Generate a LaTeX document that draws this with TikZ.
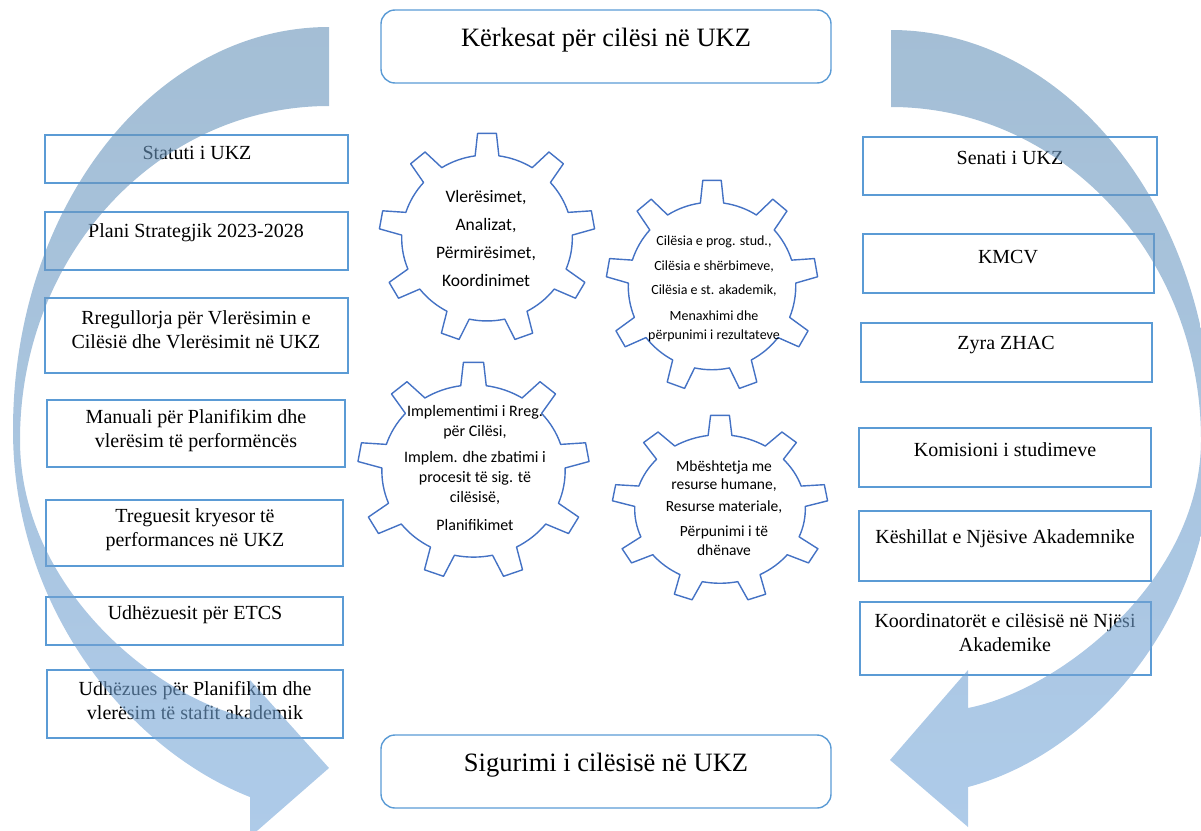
\documentclass[tikz,border=0pt]{standalone}
\usepackage{fontspec}
\setmainfont{Liberation Serif}
\newfontfamily\gearfont{Carlito}
\usetikzlibrary{positioning}
\definecolor{boxline}{RGB}{91,155,213}
\definecolor{gearline}{RGB}{68,114,196}
\definecolor{arrowtop}{RGB}{103,147,185}
\definecolor{arrowbot}{RGB}{120,168,218}
\tikzstyle{box}=[rectangle, draw=boxline, line width=1.4pt]
\tikzstyle{endbox}=[box, rounded corners=14pt, minimum width=450, minimum height=73]
\tikzstyle{boxtext}=[align=center, inner sep=0pt, font=\fontsize{20}{24}\selectfont]
\tikzstyle{endtext}=[inner sep=0pt, font=\fontsize{26.5}{30}\selectfont]
\tikzstyle{geartext}=[align=center, inner sep=0pt]
\tikzstyle{gearline}=[draw=gearline, line width=1.4pt, line join=round]
\tikzstyle{bigarrow}=[top color=arrowtop, bottom color=arrowbot, opacity=0.6]
%% one cog wheel: centre x, centre y, x radius, y radius
\newcommand{\cog}[4]{%
  \begin{scope}[shift={(#1,#2)},x=#3pt,y=#4pt]
    \draw[gearline] (82:0.79) \foreach \a in {90,130,...,410}{
      -- (\a-5:1) -- (\a+5:1) -- (\a+8:0.79)
      arc[start angle=\a+8, end angle=\a+32, radius=0.79]} -- cycle;
  \end{scope}}

\begin{document}
\begin{tikzpicture}[x=1pt,y=-1pt]
  \useasboundingbox (0,0) rectangle (1201,830);
  \clip (0,0) rectangle (1201,830);

  %% Top and bottom
  \draw (606,46.5) node[endbox] (Top) {};
  \draw (606,40) node[endtext] (TopT) {Kërkesat për cilësi në UKZ};
  \draw (606,771.5) node[endbox] (Bot) {};
  \draw (606,765) node[endtext] (BotT) {Sigurimi i cilësisë në UKZ};

  %% Left column
  \draw (196.5,159) node[box, minimum width=303, minimum height=48] (L1) {};
  \draw (196.5,241) node[box, minimum width=303, minimum height=58] (L2) {};
  \draw (196.5,335.5) node[box, minimum width=303, minimum height=75] (L3) {};
  \draw (196,433.5) node[box, minimum width=298, minimum height=67] (L4) {};
  \draw (194.5,533) node[box, minimum width=297, minimum height=66] (L5) {};
  \draw (194.5,621) node[box, minimum width=297, minimum height=48] (L6) {};
  \draw (195,704) node[box, minimum width=296, minimum height=68] (L7) {};

  \draw (197,153) node[boxtext] (L1t) {Statuti i UKZ};
  \draw (196,233) node[boxtext] (L2t) {Plani Strategjik 2023-2028};
  \draw (196,330) node[boxtext] (L3t) {Rregullorja për Vlerësimin e\\Cilësië dhe Vlerësimit në UKZ};
  \draw (196,431) node[boxtext] (L4t) {Manuali për Planifikim dhe\\vlerësim të performëncës};
  \draw (195,530) node[boxtext] (L5t) {Treguesit kryesor të\\performances në UKZ};
  \draw (195,615) node[boxtext] (L6t) {Udhëzuesit për ETCS};
  \draw (195,701) node[boxtext] (L7t) {Udhëzues për Planifikim dhe\\vlerësim të stafit akademik};

  %% Right column
  \draw (1010,166) node[box, minimum width=294, minimum height=58] (R1) {};
  \draw (1008.5,263.5) node[box, minimum width=291, minimum height=59] (R2) {};
  \draw (1006.5,352.5) node[box, minimum width=291, minimum height=59] (R3) {};
  \draw (1005,457.5) node[box, minimum width=292, minimum height=59] (R4) {};
  \draw (1005,546) node[box, minimum width=292, minimum height=70] (R5) {};
  \draw (1005.5,638.5) node[box, minimum width=291, minimum height=73] (R6) {};

  \draw (1010,158) node[boxtext] (R1t) {Senati i UKZ};
  \draw (1008,257) node[boxtext] (R2t) {KMCV};
  \draw (1006,345) node[boxtext] (R3t) {Zyra ZHAC};
  \draw (1005,450) node[boxtext] (R4t) {Komisioni i studimeve};
  \draw (1005,539) node[boxtext] (R5t) {Këshillat e Njësive Akademnike};
  \draw (1005,633) node[boxtext] (R6t) {Koordinatorët e cilësisë në Njësi\\Akademike};

  %% Cogs
  \cog{487}{238}{108}{105}
  \cog{712}{286}{106}{106}
  \cog{473.5}{471}{116}{109}
  \cog{720}{509}{108}{94}

  \draw (486,238) node[geartext, font=\gearfont\fontsize{17.5}{20}\selectfont] (G1) {Vlerësimet,\\[8pt]Analizat,\\[8pt]Përmirësimet,\\[8pt]Koordinimet};
  \draw (714,289) node[geartext, font=\gearfont\fontsize{14}{19}\selectfont] (G2) {Cilësia e prog. stud.,\\[6pt]Cilësia e shërbimeve,\\[5pt]Cilësia e st. akademik,\\[7pt]Menaxhimi dhe\\përpunimi i rezultateve};
  \draw (475,468) node[geartext, font=\gearfont\fontsize{16}{20}\selectfont] (G3) {Implementimi i Rreg.\\për Cilësi,\\[6pt]Implem. dhe zbatimi i\\procesit të sig. të\\cilësisë,\\[8pt]Planifikimet};
  \draw (724,508) node[geartext, font=\gearfont\fontsize{15.5}{18.5}\selectfont] (G4) {Mbështetja me\\resurse humane,\\[3.5pt]Resurse materiale,\\[6.5pt]Përpunimi i të\\dhënave};

  %% Circular arrows
  \shade[bigarrow] (329,27) .. controls (154,27) and (13,207) .. (13,430)
    .. controls (13,610) and (130,750) .. (250,797)
    -- (250,837) -- (329,768) -- (250,680) -- (250,718)
    .. controls (160,700) and (20,590) .. (20,440)
    .. controls (20,255) and (158,106) .. (329,106) -- cycle;
  \shade[bigarrow] (891,30) .. controls (1069,30) and (1213,214) .. (1213,440)
    .. controls (1213,620) and (1090,755) .. (968,787)
    -- (968,827) -- (890,760) -- (968,670) -- (968,708)
    .. controls (1060,690) and (1201,580) .. (1201,440)
    .. controls (1201,256) and (1062,107) .. (891,107) -- cycle;
\end{tikzpicture}
\end{document}
